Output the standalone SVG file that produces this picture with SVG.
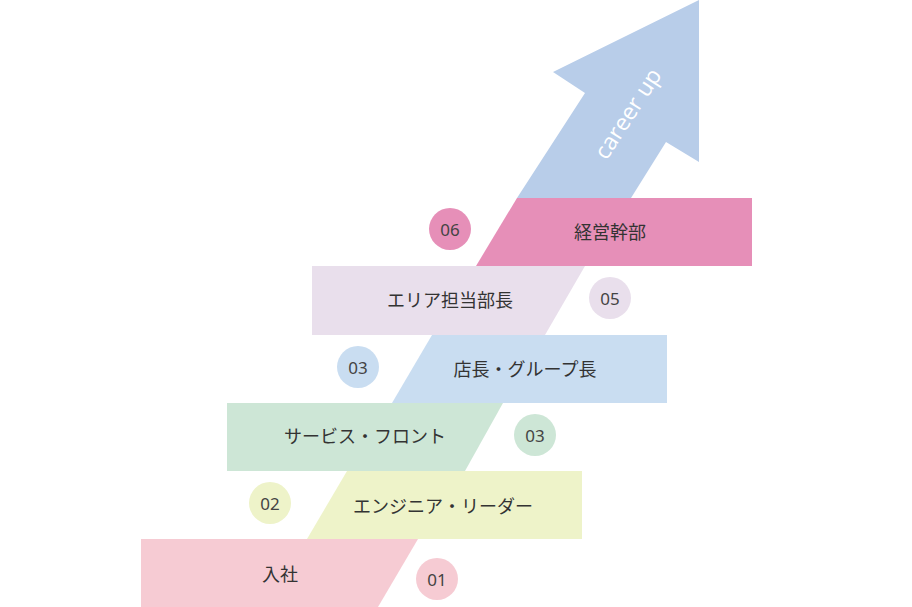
<svg xmlns="http://www.w3.org/2000/svg" width="912" height="607" viewBox="0 0 912 607">
<style>
.t{font-family:"Noto Sans CJK JP","Noto Sans",sans-serif;font-size:18px;fill:#333;text-anchor:middle;dominant-baseline:central}
.n{font-family:"Noto Sans","Open Sans",sans-serif;font-size:17px;fill:#444;text-anchor:middle;dominant-baseline:central}
</style>
<rect width="912" height="607" fill="#fff"/>
<g id="arrow">
<polygon points="517,198 631,198 666,142 699,162 699,0 553,72 585,93" fill="#b8cde9"/>
<text x="627" y="113" transform="rotate(-57 627 113)" font-family="'Open Sans','Noto Sans',sans-serif" font-size="23" fill="#fff" text-anchor="middle" dominant-baseline="central">career up</text>
</g>
<g id="step1"><polygon points="141,539 418,539 378,607 141,607" fill="#f6cbd3"/><text class="t" x="280" y="573">入社</text></g>
<g id="step2"><polygon points="347,471 582,471 582,539 307,539" fill="#eef3c9"/><text class="t" x="443" y="505">エンジニア・リーダー</text></g>
<g id="step3"><polygon points="227,403 503,403 465,471 227,471" fill="#cde6d6"/><text class="t" x="365" y="435">サービス・フロント</text></g>
<g id="step4"><polygon points="432,335 667,335 667,403 392,403" fill="#c9ddf1"/><text class="t" x="525" y="368">店長・グループ長</text></g>
<g id="step5"><polygon points="312,266 585,266 545,335 312,335" fill="#e9dfec"/><text class="t" x="450" y="299">エリア担当部長</text></g>
<g id="step6"><polygon points="517,198 752,198 752,266 476,266" fill="#e68fb8"/><text class="t" x="610" y="231">経営幹部</text></g>
<g id="badges">
<circle cx="450" cy="229" r="21" fill="#e68fb8"/><text class="n" x="450" y="229">06</text>
<circle cx="610" cy="298" r="21" fill="#e9dfec"/><text class="n" x="610" y="298">05</text>
<circle cx="358" cy="367" r="21" fill="#c9ddf1"/><text class="n" x="358" y="367">03</text>
<circle cx="535" cy="435" r="21" fill="#cde6d6"/><text class="n" x="535" y="435">03</text>
<circle cx="270" cy="503" r="21" fill="#eef3c9"/><text class="n" x="270" y="503">02</text>
<circle cx="437" cy="579" r="21" fill="#f6cbd3"/><text class="n" x="437" y="579">01</text>
</g>
<g id="connectors"/>
</svg>
